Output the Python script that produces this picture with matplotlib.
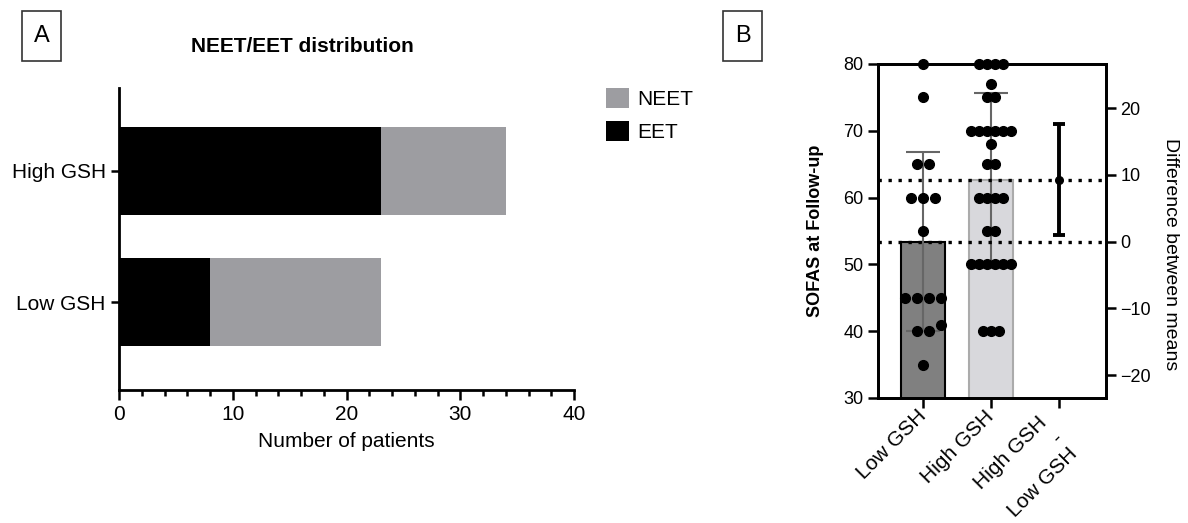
import numpy as np
import matplotlib
matplotlib.use("Agg")
import matplotlib.pyplot as plt
from matplotlib.patches import Rectangle
from matplotlib.transforms import ScaledTranslation

plt.rcParams['font.family'] = ['Liberation Sans', 'DejaVu Sans']

# Panel A - NEET/EET distribution
groups_a = ["Low GSH", "High GSH"]
eet = [8, 23]
neet = [15, 11]

# Panel B - SOFAS at follow-up
groups_b = ["Low GSH", "High GSH", "High GSH\n-\nLow GSH"]
sofas_low = [80, 75, 65, 65, 60, 60, 60, 55, 45, 45, 45, 45, 41, 40, 40, 35]
sofas_high = [80, 80, 80, 80, 77, 75, 75, 70, 70, 70, 70, 70, 70, 68, 65, 65,
              60, 60, 60, 60, 55, 55, 50, 50, 50, 50, 50, 50, 40, 40, 40]
bar_means = [53.4, 62.6]
bar_sd = [13.4, 13.1]
diff_mean = 9.2
diff_ci = [1.0, 17.6]

W, H = 1188, 523
fig = plt.figure(figsize=(W / 100, H / 100), dpi=100)


def fx(px):
    return px / W


def fy(py):
    return 1 - py / H


# ---- panel A
axa = fig.add_axes([fx(119), fy(390), fx(574 - 119), (390 - 88) / H])
ya = np.arange(len(groups_a))
axa.barh(ya, eet, height=0.67, color="black", label="EET")
axa.barh(ya, neet, left=eet, height=0.67, color="#9d9da1", label="NEET")
axa.set_xlim(0, 40)
axa.set_ylim(-0.67, 1.63)
axa.set_yticks(ya)
axa.set_yticklabels(groups_a, fontsize=15)
axa.set_xticks([0, 10, 20, 30, 40])
axa.set_xticks(np.arange(0, 41, 2), minor=True)
axa.tick_params(axis="x", labelsize=15, width=1.8, length=7)
axa.tick_params(axis="x", which="minor", width=1.8, length=4)
axa.tick_params(axis="y", width=1.8, length=6)
axa.spines[["top", "right"]].set_visible(False)
axa.spines[["left", "bottom"]].set_linewidth(2)
axa.set_xlabel("Number of patients", fontsize=15, labelpad=6)

h, l = axa.get_legend_handles_labels()
fig.legend(h[::-1], l[::-1], loc="upper left", bbox_to_anchor=(fx(606), fy(88)),
           bbox_transform=fig.transFigure, frameon=False, fontsize=15,
           handlelength=1.1, handleheight=1.1, handletextpad=0.4,
           labelspacing=0.55, borderpad=0, borderaxespad=0)

fig.text(fx(302), fy(46), "NEET/EET distribution", fontsize=15, fontweight="bold",
         ha="center", va="center")

# panel letters
for letter, x0 in [("A", 22), ("B", 723)]:
    fig.add_artist(Rectangle((fx(x0), fy(61)), fx(39), 50 / H, transform=fig.transFigure,
                             fill=False, edgecolor="#333333", linewidth=1.2))
    fig.text(fx(x0 + 19.5), fy(36), letter, fontsize=17, ha="center", va="center")

# ---- panel B
axb = fig.add_axes([fx(878), fy(398), fx(1106 - 878), (398 - 64) / H])
xb = np.arange(len(groups_b))
axb.bar(xb[0], bar_means[0], width=0.65, bottom=0, color="#808080",
        edgecolor="black", linewidth=1.5, zorder=1)
axb.bar(xb[1], bar_means[1], width=0.65, bottom=0, color="#d8d8dc",
        edgecolor="#ababab", linewidth=1.5, zorder=1)
axb.errorbar(xb[:2], bar_means, yerr=bar_sd, fmt="none", ecolor="#666666",
             elinewidth=1.5, capsize=12, capthick=1.5, zorder=2)


def swarm(vals, step, px_x=68.0, px_y=6.68, d=10.0):
    placed = []
    for v in sorted(set(vals)):
        n = vals.count(v)
        base = (np.arange(n) - (n - 1) / 2) * step
        for shift in [0, 0.5, -0.5, 1, -1, 1.5, -1.5, 2, -2]:
            xs = base + shift * step
            ok = all(np.hypot((x - px) * px_x, (v - py) * px_y) >= d
                     for x in xs for px, py in placed if py != v)
            if ok:
                break
        placed += [(x, v) for x in xs]
    return np.array(placed)


pts_low = swarm(sofas_low, 0.176)
pts_high = swarm(sofas_high, 0.118)
axb.plot(xb[0] + pts_low[:, 0], pts_low[:, 1], "o", color="black", ms=7,
         zorder=3, clip_on=False)
axb.plot(xb[1] + pts_high[:, 0], pts_high[:, 1], "o", color="black", ms=7,
         zorder=3, clip_on=False)

for m in bar_means:
    axb.axhline(m, color="black", linestyle=(0, (1, 2)), linewidth=2.4, zorder=2)

axb.set_xlim(-0.66, 2.69)
axb.set_ylim(30, 80)
axb.set_yticks(np.arange(30, 81, 10))
axb.set_xticks(xb)
axb.set_xticklabels(groups_b, rotation=45, ha="right", va="center",
                    rotation_mode="anchor", fontsize=15, multialignment="right")
axb.tick_params(axis="y", labelsize=13, width=1.8, length=7)
axb.tick_params(axis="x", width=1.8, length=7, pad=4)
for s in axb.spines.values():
    s.set_linewidth(2)
axb.set_ylabel("SOFAS at Follow-up", fontsize=13, fontweight="bold", labelpad=14)

ax2 = axb.twinx()
ax2.set_ylim(30 - bar_means[0], 80 - bar_means[0])
ax2.set_yticks([-20, -10, 0, 10, 20])
ax2.tick_params(axis="y", labelsize=13, width=1.8, length=7)
ax2.errorbar([xb[2]], [diff_mean],
             yerr=[[diff_mean - diff_ci[0]], [diff_ci[1] - diff_mean]],
             fmt="o", color="black", ms=5.5, elinewidth=2.8, capsize=4, capthick=2.8)
for s in ax2.spines.values():
    s.set_linewidth(2)
ax2.set_ylabel("Difference between means", fontsize=14, rotation=270)
ax2.yaxis.set_label_coords(1.32, 0.43)

# the stacked difference label sits lower than the single-line ones
lab = axb.get_xticklabels()[2]
lab.set_transform(lab.get_transform() + ScaledTranslation(0, -0.22, fig.dpi_scale_trans))

fig.savefig("out.png", dpi=100)
